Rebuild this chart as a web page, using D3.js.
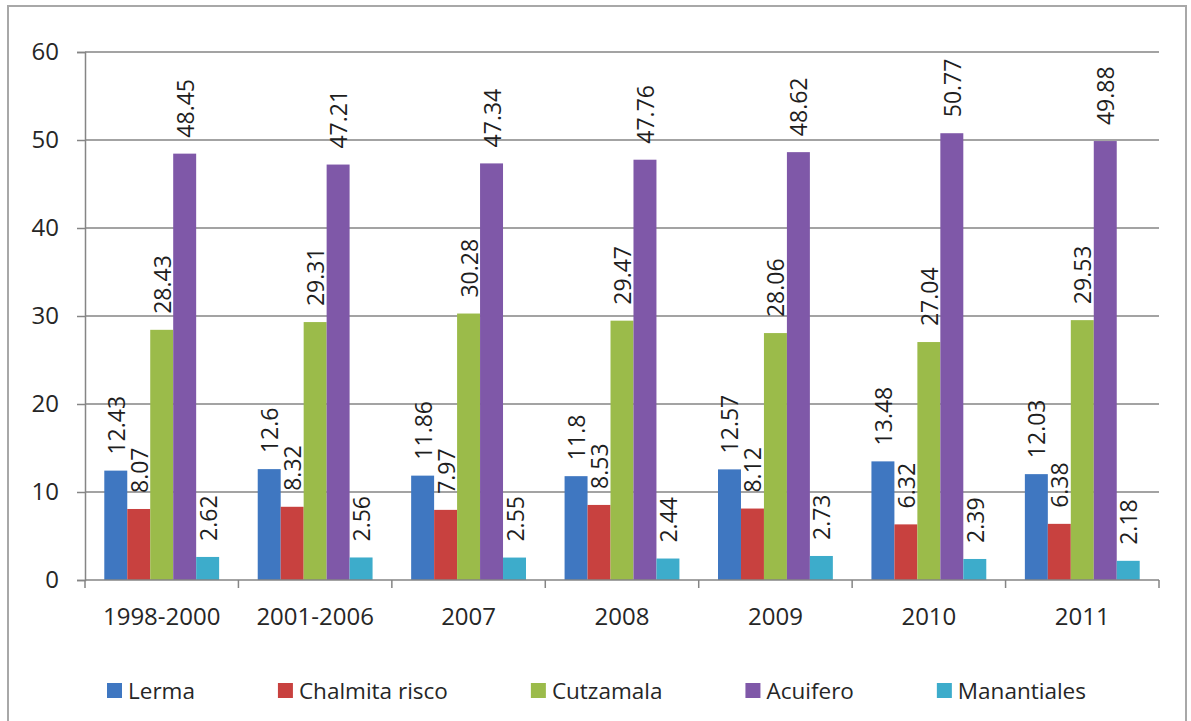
<!DOCTYPE html>
<html>
<head>
<meta charset="utf-8">
<script src="https://cdn.jsdelivr.net/npm/d3@7"></script>
<style>
  html, body { margin: 0; padding: 0; background: #fff; }
  svg { display: block; font-family: "Open Sans", sans-serif; }
</style>
</head>
<body>
<svg id="chart" width="1191" height="721"></svg>
<script>
const categories = ["1998-2000", "2001-2006", "2007", "2008", "2009", "2010", "2011"];
const seriesNames = ["Lerma", "Chalmita risco", "Cutzamala", "Acuifero", "Manantiales"];
const lerma       = [12.43, 12.6, 11.86, 11.8, 12.57, 13.48, 12.03];
const chalmita    = [8.07, 8.32, 7.97, 8.53, 8.12, 6.32, 6.38];
const cutzamala   = [28.43, 29.31, 30.28, 29.47, 28.06, 27.04, 29.53];
const acuifero    = [48.45, 47.21, 47.34, 47.76, 48.62, 50.77, 49.88];
const manantiales = [2.62, 2.56, 2.55, 2.44, 2.73, 2.39, 2.18];
const yTicks = [0, 10, 20, 30, 40, 50, 60];
const colors = ["#3f77c1", "#c8413f", "#9bbb4a", "#7f58a8", "#3daccb"];

(function () {
const seriesValues = [lerma, chalmita, cutzamala, acuifero, manantiales];
const table = categories.map((c, i) => ({
  category: c,
  values: seriesNames.map((s, j) => ({ series: s, value: seriesValues[j][i] }))
}));

const svg = d3.select("#chart");
const mLeft = 85, mRight = 1159, mTop = 52, mBottom = 580;

// frame
svg.append("rect").attr("x", 8).attr("y", 6).attr("width", 1178).attr("height", 730)
  .attr("fill", "none").attr("stroke", "#a8a8a8").attr("stroke-width", 2);

const y = d3.scaleLinear().domain([0, 60]).range([mBottom, mTop]);
const x0 = d3.scaleBand().domain(categories).range([mLeft, mRight]).padding(0);
const x1 = d3.scaleBand().domain(seriesNames).range([0, x0.bandwidth()]).paddingInner(0).paddingOuter(0.84);
const color = d3.scaleOrdinal().domain(seriesNames).range(colors);

// gridlines
svg.append("g").selectAll("line").data(yTicks.filter(d => d > 0)).join("line")
  .attr("x1", mLeft).attr("x2", mRight)
  .attr("y1", d => y(d)).attr("y2", d => y(d))
  .attr("stroke", "#858585").attr("stroke-width", 1.5);

// y axis
const yAxis = svg.append("g").attr("transform", `translate(${mLeft},0)`)
  .call(d3.axisLeft(y).tickValues(yTicks).tickSize(8).tickPadding(18));
yAxis.select(".domain").attr("stroke", "#858585").attr("stroke-width", 1.5);
yAxis.selectAll(".tick line").attr("stroke", "#858585").attr("stroke-width", 1.5);
yAxis.selectAll(".tick text").attr("font-size", 24).attr("fill", "#262626")
  .attr("font-family", "'Open Sans', sans-serif");

// bars
const groups = svg.append("g").selectAll("g").data(table).join("g")
  .attr("transform", d => `translate(${x0(d.category)},0)`);

groups.selectAll("rect").data(d => d.values).join("rect")
  .attr("x", d => x1(d.series))
  .attr("width", x1.bandwidth())
  .attr("y", d => y(d.value))
  .attr("height", d => y(0) - y(d.value))
  .attr("fill", d => color(d.series));

groups.selectAll("text").data(d => d.values).join("text")
  .attr("transform", d => `translate(${x1(d.series) + x1.bandwidth() / 2},${y(d.value) - 16}) rotate(-90)`)
  .attr("text-anchor", "start")
  .attr("dominant-baseline", "central")
  .attr("font-size", 23)
  .attr("fill", "#1e1e1e")
  .text(d => String(d.value));

// x axis
const xAxisG = svg.append("g");
xAxisG.append("line").attr("x1", mLeft).attr("x2", mRight).attr("y1", mBottom).attr("y2", mBottom)
  .attr("stroke", "#858585").attr("stroke-width", 1.5);
const boundaries = categories.map(c => x0(c)).concat([x0.range()[1]]);
xAxisG.selectAll("line.tk").data(boundaries).join("line").attr("class", "tk")
  .attr("x1", d => d).attr("x2", d => d).attr("y1", mBottom).attr("y2", mBottom + 8)
  .attr("stroke", "#858585").attr("stroke-width", 1.5);
xAxisG.selectAll("text").data(categories).join("text")
  .attr("x", d => x0(d) + x0.bandwidth() / 2)
  .attr("y", 625)
  .attr("text-anchor", "middle")
  .attr("font-size", 24)
  .attr("fill", "#262626")
  .text(d => d);

// legend
const legend = svg.append("g");
let lx = 107;
seriesNames.forEach(s => {
  const g = legend.append("g").attr("transform", `translate(${lx},0)`);
  g.append("rect").attr("x", 0).attr("y", 683).attr("width", 15).attr("height", 15).attr("fill", color(s));
  const t = g.append("text").attr("x", 21).attr("y", 699).attr("font-size", 22.5).attr("fill", "#262626").text(s);
  lx += 21 + t.node().getComputedTextLength() + 83;
});
})();
</script>
</body>
</html>
